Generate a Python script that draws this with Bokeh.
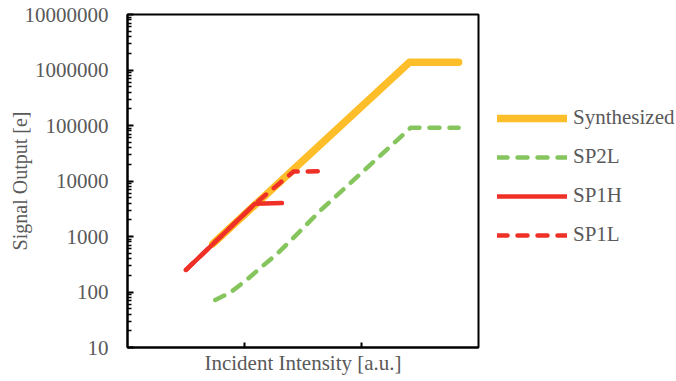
from bokeh.plotting import figure
from bokeh.layouts import row
from bokeh.models import (Range1d, FixedTicker, PrintfTickFormatter, Legend, LegendItem)
from bokeh.embed import file_html
from bokeh.resources import INLINE

# Data (x in arbitrary incident-intensity units, y in electrons)
synth_x = [0.73, 2.41, 2.83]
synth_y = [740, 1380000, 1380000]

sp2l_x = [0.75, 0.88, 1.03, 1.16, 1.28, 1.42, 1.65, 2.42, 2.83]
sp2l_y = [72, 98, 174, 300, 490, 955, 2950, 91000, 91000]

sp1h_x = [0.5, 1.09, 1.32]
sp1h_y = [250, 3900, 4000]

sp1l_x = [0.5, 1.09, 1.42, 1.65]
sp1l_y = [250, 3900, 14800, 15000]

y_ticks = [10, 100, 1000, 10000, 100000, 1000000, 10000000]
x_ticks = [1, 2]

names = ["Synthesized", "SP2L", "SP1H", "SP1L"]
series_x = [synth_x, sp2l_x, sp1h_x, sp1l_x]
series_y = [synth_y, sp2l_y, sp1h_y, sp1l_y]
styles = [
    dict(line_color="#FDBE2A", line_width=7.5),
    dict(line_color="#86C55D", line_width=4.5, line_dash="10 10"),
    dict(line_color="#EE3026", line_width=4.5),
    dict(line_color="#EE3026", line_width=4.5, line_dash="10 10"),
]

FONT = "Liberation Serif"
GRAY = "#595959"

p = figure(width=480, height=381, y_axis_type="log",
           x_range=Range1d(0, 3), y_range=Range1d(10, 10000000),
           output_backend="svg", toolbar_location=None,
           min_border_left=127, min_border_right=2,
           min_border_top=14, min_border_bottom=34)

p.grid.visible = False
p.outline_line_color = "black"
p.outline_line_width = 2
p.outline_line_alpha = 1

for xs, ys, st in zip(series_x, series_y, styles):
    p.line(xs, ys, line_cap="round", line_join="round", **st)

# Y axis
minor = [k * 10 ** d for d in range(1, 7) for k in range(2, 10)]
p.yaxis.ticker = FixedTicker(ticks=y_ticks, minor_ticks=minor)
p.yaxis.formatter = PrintfTickFormatter(format="%d")
p.yaxis.axis_label = "Signal Output [e]"
p.yaxis.major_tick_in = 6
p.yaxis.major_tick_out = 0
p.yaxis.minor_tick_in = 4
p.yaxis.minor_tick_out = 0
p.yaxis.major_label_standoff = 19
p.yaxis.axis_label_standoff = -9

# X axis
p.xaxis.ticker = FixedTicker(ticks=x_ticks, minor_ticks=[])
p.xaxis.major_label_overrides = {1: "", 2: ""}
p.xaxis.major_label_text_font_size = "0px"
p.xaxis.major_label_standoff = 0
p.xaxis.axis_label = "Incident Intensity [a.u.]"
p.xaxis.major_tick_in = 5
p.xaxis.major_tick_out = 0
p.xaxis.minor_tick_in = 0
p.xaxis.minor_tick_out = 0
p.xaxis.axis_label_standoff = 3

for ax in (p.xaxis, p.yaxis):
    ax.axis_line_color = "black"
    ax.axis_line_width = 2
    ax.major_tick_line_color = "black"
    ax.major_tick_line_width = 2
    ax.minor_tick_line_color = "black"
    ax.minor_tick_line_width = 1.5
    ax.major_label_text_font = FONT
    ax.major_label_text_color = GRAY
    ax.axis_label_text_font = FONT
    ax.axis_label_text_font_style = "normal"
    ax.axis_label_text_color = GRAY
p.yaxis.major_label_text_font_size = "21px"
p.xaxis.axis_label_text_font_size = "21px"
p.yaxis.axis_label_text_font_size = "20px"

# Legend panel (separate figure to the right); its y range hides the lines,
# which exist only to give the legend its glyphs.
p2 = figure(width=196, height=381, x_range=Range1d(0, 3), y_range=Range1d(0, 1),
            output_backend="svg", toolbar_location=None,
            x_axis_location=None, y_axis_location=None,
            min_border_left=0, min_border_right=0, min_border_top=0, min_border_bottom=0)
p2.grid.visible = False
p2.outline_line_color = None
items = []
for name, xs, ys, st in zip(names, series_x, series_y, styles):
    r = p2.line(xs, ys, line_cap="round", **st)
    items.append(LegendItem(label=name, renderers=[r]))

legend = Legend(items=items, location=(17, 100))
legend.border_line_color = None
legend.background_fill_alpha = 0
legend.padding = 0
legend.margin = 0
legend.spacing = 14
legend.glyph_width = 70
legend.glyph_height = 20
legend.label_height = 20
legend.label_standoff = 6
legend.label_text_font = FONT
legend.label_text_font_size = "21px"
legend.label_text_color = GRAY
p2.add_layout(legend, "center")

layout = row(p, p2)
open("out.html", "w").write(file_html(layout, INLINE))
